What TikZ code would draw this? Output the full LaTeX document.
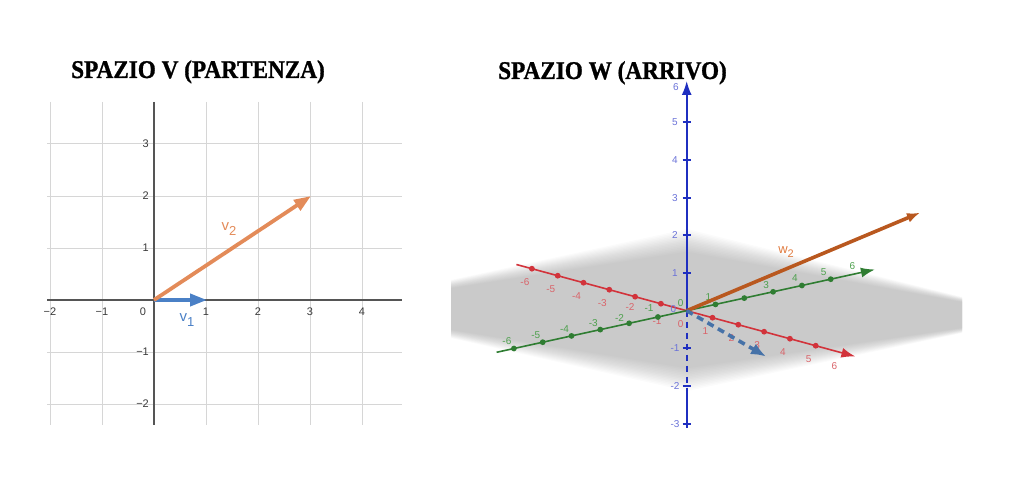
\documentclass[tikz,border=0pt]{standalone}
\usepackage{fontspec}
\setmainfont{Liberation Sans}
\newfontfamily\ttlfont{Liberation Serif}[BoldFeatures={FakeBold=1.2}]
\usetikzlibrary{arrows.meta}
\definecolor{gridc}{HTML}{D6D6D6}
\definecolor{axc}{HTML}{555555}
\definecolor{ticktxt}{HTML}{3A3A3A}
\definecolor{orangev}{HTML}{E38B59}
\definecolor{bluev}{HTML}{4A80C6}
\definecolor{redax}{HTML}{D2333B}
\definecolor{redlab}{HTML}{D9646A}
\definecolor{greenax}{HTML}{2F7D32}
\definecolor{greenlab}{HTML}{4DA04D}
\definecolor{blueax}{HTML}{1F2FC0}
\definecolor{bluelab}{HTML}{6A72D8}
\definecolor{brownv}{HTML}{B9581F}
\definecolor{wlab}{HTML}{E07B40}
\definecolor{dashblue}{HTML}{4672A8}
\tikzset{
  gridln/.style={gridc, line width=1pt},
  axln/.style={axc, line width=1.3pt},
  vecarrow/.style={line width=3.8pt, -{Triangle[length=17pt,width=12pt]}},
  ticklab/.style={text=ticktxt, font=\fontsize{11}{11}\selectfont, inner sep=0pt},
  vlab/.style={font=\fontsize{15}{15}\selectfont, inner sep=0pt},
  ttl/.style={font=\ttlfont\bfseries\fontsize{25.5}{25.5}\selectfont, inner sep=0pt, anchor=base},
  tdlab/.style={font=\fontsize{10}{10}\selectfont, inner sep=0pt},
  axhead/.style={-{Latex[length=14pt,width=10pt]}},
}
\begin{document}
\begin{tikzpicture}[x=1pt,y=-1pt]
\useasboundingbox (0,0) rectangle (1024,497);

% ---------------- titles
\node[ttl] (t1) at (198,78) {\scalebox{0.91}[1]{SPAZIO V (PARTENZA)}};
\node[ttl] (t2) at (612.5,79) {\scalebox{0.91}[1]{SPAZIO W (ARRIVO)}};

% ---------------- left plane
\foreach \i in {-2,...,4} \draw[gridln] ({154+52*\i},102) -- ({154+52*\i},425);
\foreach \j in {-2,...,3} \draw[gridln] (47,{300-52*\j}) -- (402,{300-52*\j});
\draw[axln] (47,300) -- (402,300);
\draw[axln] (154,102) -- (154,425);
\foreach \i/\t in {-2/−2,-1/−1,1/1,2/2,3/3,4/4}
  \node[ticklab] at ({154+52*\i},312) {\t};
\node[ticklab] at (143,312) {0};
\foreach \j/\t in {-2/−2,-1/−1,1/1,2/2,3/3}
  \node[ticklab, anchor=east] at (149,{300-52*\j}) {\t};

\coordinate (VO) at (154,300);
\coordinate (V1) at (207,300);
\coordinate (V2) at (311,196);
\draw[vecarrow, bluev] (VO) -- (V1);
\draw[vecarrow, orangev] (VO) -- (V2);
\node[vlab, text=orangev] (lv2) at (229,229) {v\raisebox{-4.5pt}{\fontsize{13}{13}\selectfont 2}};
\node[vlab, text=bluev] (lv1) at (187,320) {v\raisebox{-4.5pt}{\fontsize{13}{13}\selectfont 1}};

% ---------------- right: plane (soft-edged grey)
\foreach \s in {1.0,0.98,...,0.70}
  \fill[black, opacity=0.0175]
    (451,{309-29*\s}) -- (687,{310-81*\s}) -- (962,{315-18*\s}) --
    (962,{315+18*\s}) -- (687,{310+81*\s}) -- (451,{309+29*\s}) -- cycle;

\coordinate (O) at (686.7,310.7);
\coordinate (Xneg) at (516.4,264.5);
\coordinate (Xpos) at (855.4,356.5);
\coordinate (Yneg) at (496.6,352.3);
\coordinate (Ypos) at (874.9,269.5);
\coordinate (Ztop) at (686.7,81);
\coordinate (Zpl) at (686.7,390);
\coordinate (Zbot) at (686.7,428);

% red axis
\draw[redax, line width=1.6pt, axhead] (Xneg) -- (Xpos);
\foreach \i in {-6,...,-1,1,2,3,4,5}
  \fill[redax] ({686.7+25.8*\i},{310.7+7.0*\i}) circle (2.9);
\foreach \i/\t in {-6/-6,-5/-5,-4/-4,-3/-3,1/1,2/2,3/3,4/4,5/5,6/6}
  \node[tdlab, text=redlab] at ({686.7+25.8*\i-7},{310.7+7.0*\i+13}) {\t};
\node[tdlab, text=redlab] at (630,307.5) {-2};
\node[tdlab, text=redlab] at (657,321) {-1};
\node[tdlab, text=redlab] at (680.7,324.3) {0};

% green axis
\draw[greenax, line width=1.6pt, axhead] (Yneg) -- (Ypos);
\foreach \i in {-6,...,-1,1,2,3,4,5}
  \fill[greenax] ({686.7+28.8*\i},{310.7-6.3*\i}) circle (2.9);
\foreach \i/\t in {-6/-6,-5/-5,-4/-4,-3/-3,1/1,3/3,4/4,5/5,6/6}
  \node[tdlab, text=greenlab] at ({686.7+28.8*\i-7},{310.7-6.3*\i-7}) {\t};
\node[tdlab, text=greenlab] at (619.5,318) {-2};
\node[tdlab, text=greenlab] at (649,308) {-1};
\node[tdlab, text=greenlab] at (680.7,303.5) {0};

% blue axis
\draw[blueax, line width=1.6pt, axhead] (O) -- (Ztop);
\draw[blueax, line width=1.6pt, dash pattern=on 6pt off 5pt] (O) -- (Zpl);
\draw[blueax, line width=1.6pt] (Zpl) -- (Zbot);
\foreach \k in {-3,-2,-1,1,2,3,4,5}
  \draw[blueax, line width=2pt] (682.5,{310.7-37.7*\k}) -- (690.9,{310.7-37.7*\k});
\foreach \k/\t in {-3/-3,-2/-2,-1/-1,1/1,2/2,3/3,4/4,5/5}
  \node[tdlab, text=bluelab] at (675,{310.7-37.7*\k}) {\t};
\node[tdlab, text=bluelab] at (676,87) {6};
\node[tdlab, text=bluelab] at (673.5,309.5) {0};

% vectors in W
\coordinate (W2) at (920,212.7);
\coordinate (W1) at (766,356.5);
\draw[brownv, line width=3.6pt, -{Latex[length=13pt,width=10pt]}] (O) -- (W2);
\draw[dashblue, line width=3.6pt, dash pattern=on 7pt off 5pt, -{Latex[length=15pt,width=12pt]}] (O) -- (W1);
\node[vlab, text=wlab, font=\fontsize{13}{13}\selectfont] (lw2) at (786,252) {w\raisebox{-4pt}{\fontsize{11}{11}\selectfont 2}};

\end{tikzpicture}
\end{document}
